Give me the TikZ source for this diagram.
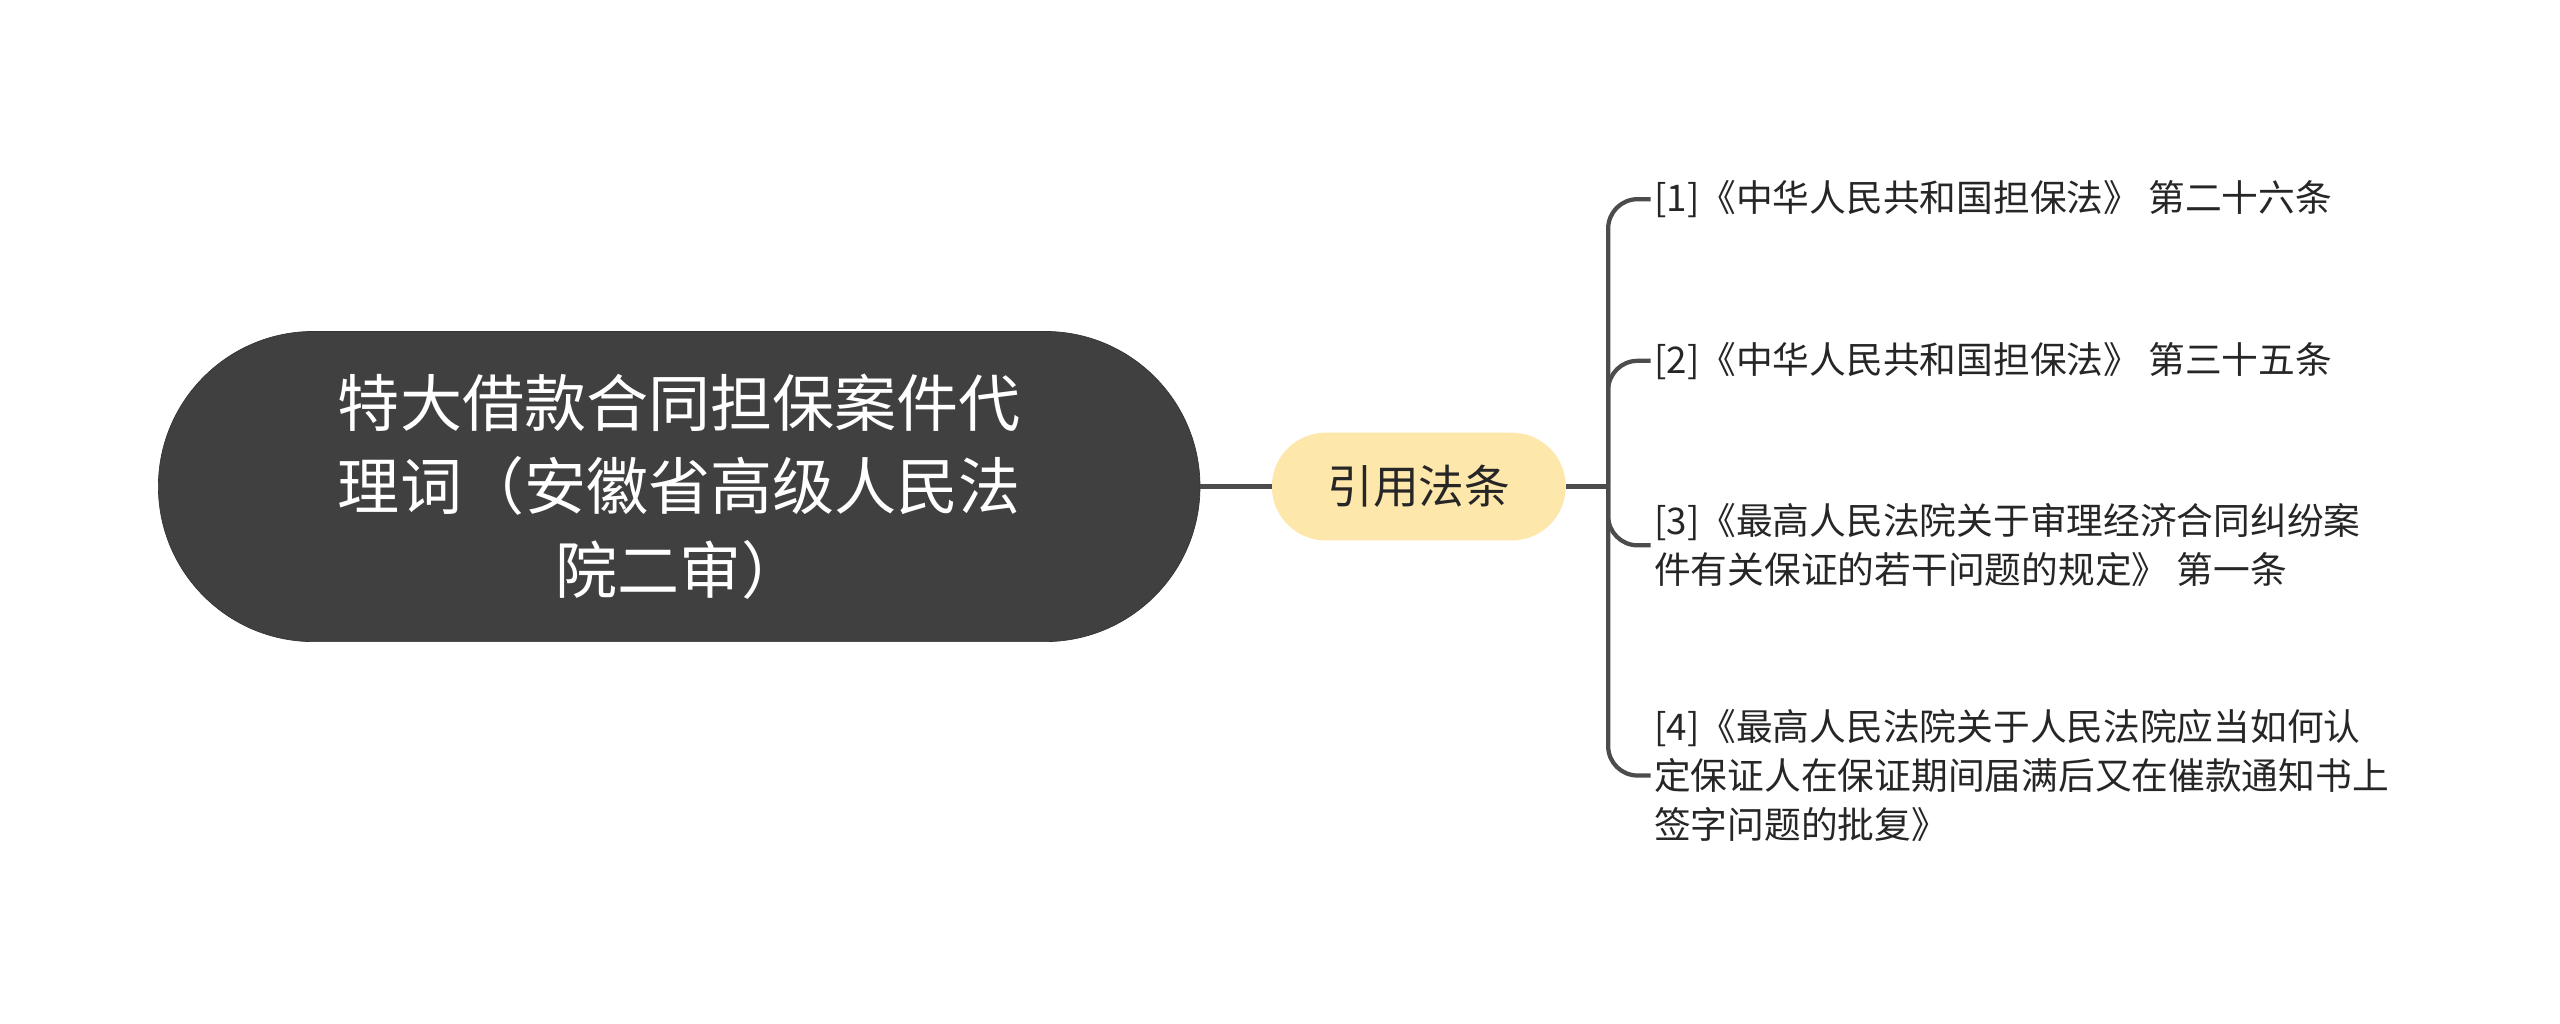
\documentclass[tikz,border=0pt]{standalone}
\usepackage{fontspec}
\newfontfamily\cjk{Noto Sans CJK SC}
\begin{document}
\begin{tikzpicture}[x=1pt,y=1pt,
  conn/.style={draw=black!70,line width=2.6pt},
  leaf/.style={anchor=west,align=left,inner sep=2pt,font=\cjk\fontsize{22.5}{30}\selectfont,text=black!85}]
\useasboundingbox[fill=white] (0,0) rectangle (1568,627);
\node[fill=black!75,draw=black!80,rounded corners=95pt,minimum width=638pt,minimum height=190pt,
  text=white,align=center,font=\cjk\fontsize{38}{51}\selectfont] (root) at (416,329)
  {特大借款合同担保案件代\\理词（安徽省高级人民法\\院二审）};
\node[fill={rgb,255:red,254;green,231;blue,170},rounded corners=33pt,
  minimum width=180pt,minimum height=66pt,font=\cjk\fontsize{28}{32}\selectfont,text=black!85] (mid) at (869,329) {引用法条};
\coordinate (j) at (985,329);
\node[leaf] (l1) at (1011,505) {[1]《中华人民共和国担保法》 第二十六条};
\node[leaf] (l2) at (1011,406) {[2]《中华人民共和国担保法》 第三十五条};
\node[leaf] (l3) at (1011,293) {[3]《最高人民法院关于审理经济合同纠纷案\\件有关保证的若干问题的规定》 第一条};
\node[leaf] (l4) at (1011,152) {[4]《最高人民法院关于人民法院应当如何认\\定保证人在保证期间届满后又在催款通知书上\\签字问题的批复》};
\draw[conn] (root.east) -- (mid.west);
\draw[conn] (mid.east) -- (j);
\foreach \l in {l1,l2,l3,l4} \draw[conn,rounded corners=18pt] (j) |- (\l.west);
\end{tikzpicture}
\end{document}
